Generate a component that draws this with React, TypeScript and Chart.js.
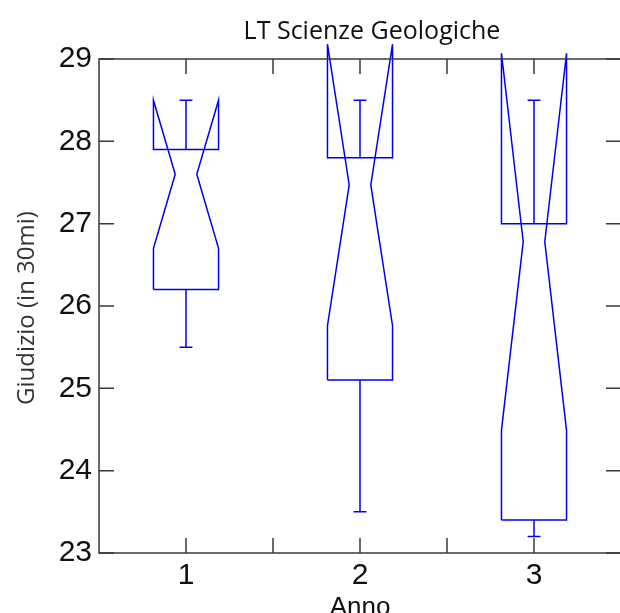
import { useEffect, useRef } from 'react';
import { Chart, registerables } from 'chart.js';

Chart.register(...registerables);

// ---- data ----
const categories = [1, 2, 3];
const upperWhisker = [28.5, 28.5, 28.5];
const q3 = [27.9, 27.8, 27.0];
const median = [27.6, 27.47, 26.78];
const notchHigh = [28.5, 29.18, 29.07];
const notchLow = [26.7, 25.76, 24.49];
const q1 = [26.2, 25.1, 23.4];
const lowerWhisker = [25.5, 23.5, 23.2];

const yTickValues = [23, 24, 25, 26, 27, 28, 29];
const xTickValues = [1, 1.5, 2, 2.5, 3];
const xTickLabels = ['1', '2', '3'];

const titleText = 'LT Scienze Geologiche';
const xTitleText = 'Anno';
const yTitleText = 'Giudizio (in 30mi)';

// ---- styles / sizes ----
const BOX_HALF = 0.187;
const NOTCH_HALF = 0.062;
const CAP_HALF = 0.037;
const BLUE = '#0000f0';
const FRAME = '#3a3a3a';
const TICK_FONT = 'Arial, "Liberation Sans", sans-serif';

function buildDatasets() {
  const base = {
    showLine: true,
    pointRadius: 0,
    borderColor: BLUE,
    borderWidth: 1.5,
    tension: 0,
    fill: false,
    clip: false as const,
  };
  const ds: any[] = [];
  categories.forEach((c, i) => {
    const L = c - BOX_HALF;
    const R = c + BOX_HALF;
    ds.push({
      ...base,
      data: [
        { x: L, y: q1[i] },
        { x: L, y: notchLow[i] },
        { x: c - NOTCH_HALF, y: median[i] },
        { x: L, y: notchHigh[i] },
        { x: L, y: q3[i] },
        { x: R, y: q3[i] },
        { x: R, y: notchHigh[i] },
        { x: c + NOTCH_HALF, y: median[i] },
        { x: R, y: notchLow[i] },
        { x: R, y: q1[i] },
        { x: L, y: q1[i] },
      ],
    });
    ds.push({
      ...base,
      data: [
        { x: c, y: q3[i] },
        { x: c, y: upperWhisker[i] },
        { x: c - CAP_HALF, y: upperWhisker[i] },
        { x: c + CAP_HALF, y: upperWhisker[i] },
      ],
    });
    ds.push({
      ...base,
      data: [
        { x: c, y: q1[i] },
        { x: c, y: lowerWhisker[i] },
        { x: c - CAP_HALF, y: lowerWhisker[i] },
        { x: c + CAP_HALF, y: lowerWhisker[i] },
      ],
    });
  });
  return ds;
}

const framePlugin = {
  id: 'matlabFrame',
  afterDatasetsDraw(chart: any) {
    const { ctx, chartArea, scales } = chart;
    const { left, right, top, bottom } = chartArea;
    const xs = scales.x;
    const ys = scales.y;
    const TL = 15;
    ctx.save();
    ctx.strokeStyle = FRAME;
    ctx.lineWidth = 1.5;
    ctx.beginPath();
    ctx.rect(left, top, right - left, bottom - top);
    ctx.stroke();
    ctx.beginPath();
    xTickValues.forEach((v) => {
      const px = xs.getPixelForValue(v);
      ctx.moveTo(px, bottom);
      ctx.lineTo(px, bottom - TL);
      ctx.moveTo(px, top);
      ctx.lineTo(px, top + TL);
    });
    yTickValues.forEach((v) => {
      const py = ys.getPixelForValue(v);
      ctx.moveTo(left, py);
      ctx.lineTo(left + TL, py);
      ctx.moveTo(right, py);
      ctx.lineTo(right - TL, py);
    });
    ctx.stroke();

    // title
    ctx.fillStyle = '#111';
    ctx.textAlign = 'center';
    ctx.textBaseline = 'alphabetic';
    ctx.font = '25px "Open Sans", sans-serif';
    ctx.fillText(titleText, (left + right) / 2 + 12, top - 20.5);

    // x title
    ctx.font = '26px ' + TICK_FONT;
    ctx.fillText(xTitleText, xs.getPixelForValue(2), bottom + 62);

    // y title
    ctx.save();
    ctx.translate(33.5, (top + bottom) / 2 + 2);
    ctx.rotate(-Math.PI / 2);
    ctx.fillStyle = '#333';
    ctx.font = '24px "Open Sans", sans-serif';
    ctx.fillText(yTitleText, 0, 0);
    ctx.restore();

    ctx.restore();
  },
};

export default function App() {
  const ref = useRef<HTMLCanvasElement>(null);
  useEffect(() => {
    if (!ref.current) return;
    const chart = new Chart(ref.current, {
      type: 'scatter',
      data: { datasets: buildDatasets() },
      options: {
        animation: false,
        responsive: false,
        devicePixelRatio: 1,
        layout: { padding: { top: 59, right: 9, left: 0, bottom: 0 } },
        plugins: {
          legend: { display: false },
          tooltip: { enabled: false },
          title: { display: false },
        },
        scales: {
          x: {
            type: 'linear',
            min: 0.5,
            max: 3.5,
            afterBuildTicks: (s: any) => {
              s.ticks = xTickValues.map((v) => ({ value: v }));
            },
            afterFit: (s: any) => {
              s.height = 60;
            },
            grid: { display: false, drawTicks: false },
            border: { display: false },
            ticks: {
              autoSkip: false,
              maxRotation: 0,
              padding: 5,
              color: '#111',
              font: { family: TICK_FONT, size: 30 },
              callback: (v: any) => (Number.isInteger(v) ? xTickLabels[v - 1] : ''),
            },
          },
          y: {
            type: 'linear',
            min: 23,
            max: 29,
            afterBuildTicks: (s: any) => {
              s.ticks = yTickValues.map((v) => ({ value: v }));
            },
            afterFit: (s: any) => {
              s.width = 99;
            },
            grid: { display: false, drawTicks: false },
            border: { display: false },
            ticks: {
              padding: 7,
              color: '#111',
              font: { family: TICK_FONT, size: 30 },
              callback: (v: any) => String(v),
            },
          },
        },
      },
      plugins: [framePlugin],
    });
    return () => chart.destroy();
  }, []);
  return (
    <div
      style={{
        position: 'fixed',
        left: 0,
        top: 0,
        width: 620,
        height: 613,
        overflow: 'hidden',
        background: '#fff',
      }}
    >
      <canvas ref={ref} width={630} height={613} style={{ display: 'block' }} />
    </div>
  );
}
